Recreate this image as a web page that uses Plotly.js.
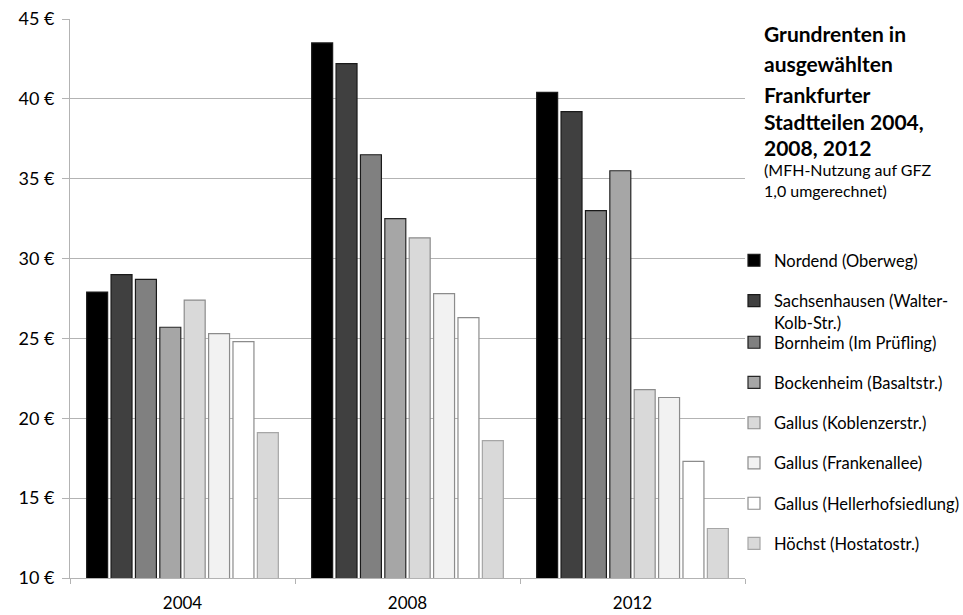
<!DOCTYPE html>
<html><head><meta charset="utf-8">
<script src="https://cdn.plot.ly/plotly-3.0.1.min.js"></script>
<style>body{margin:0;background:#fff}#chart{width:963px;height:615px}</style>
</head><body><div id="chart"></div>
<script>
const years = ['2004', '2008', '2012'];
const seriesNames = [
  'Nordend (Oberweg)',
  'Sachsenhausen (Walter-<br>Kolb-Str.)',
  'Bornheim (Im Prüfling)',
  'Bockenheim (Basaltstr.)',
  'Gallus (Koblenzerstr.)',
  'Gallus (Frankenallee)',
  'Gallus (Hellerhofsiedlung)',
  'Höchst (Hostatostr.)'
];
const nordend = [27.9, 43.5, 40.4];
const sachsenhausen = [29.0, 42.2, 39.2];
const bornheim = [28.7, 36.5, 33.0];
const bockenheim = [25.7, 32.5, 35.5];
const gallusKoblenz = [27.4, 31.3, 21.8];
const gallusFranken = [25.3, 27.8, 21.3];
const gallusHeller = [24.8, 26.3, 17.3];
const hoechst = [19.1, 18.6, 13.1];
const yTicks = [10, 15, 20, 25, 30, 35, 40, 45];

const seriesValues = [nordend, sachsenhausen, bornheim, bockenheim, gallusKoblenz, gallusFranken, gallusHeller, hoechst];
const fills = ['#000000', '#404040', '#808080', '#a6a6a6', '#d9d9d9', '#f2f2f2', '#ffffff', '#d9d9d9'];
const outlines = ['#1a1a1a', '#1a1a1a', '#1a1a1a', '#262626', '#8c8c8c', '#8c8c8c', '#8c8c8c', '#a6a6a6'];

const FONT = 'Lato, "Open Sans", sans-serif';

const traces = seriesValues.map((vals, i) => ({
  type: 'bar',
  name: seriesNames[i],
  x: years,
  y: vals,
  marker: { color: fills[i], line: { color: outlines[i], width: 1.2 } },
  legend: i < 2 ? 'legend' : 'legend2',
  legendgroup: 'g' + i
}));

const px2py = p => (578 - p) / 559;
const px2px = p => (p - 70) / 675;

const titleLines = ['Grundrenten in', 'ausgewählten', 'Frankfurter', 'Stadtteilen 2004,', '2008, 2012'];
const titleY = [34, 64, 94, 122, 148];
const annotations = titleLines.map((t, i) => ({
  text: '<b>' + t + '</b>', xref: 'paper', yref: 'paper',
  x: px2px(762), y: px2py(titleY[i]), xanchor: 'left', yanchor: 'middle',
  showarrow: false, align: 'left',
  font: { family: FONT, size: 21, color: '#000' }
}));
annotations.push({
  text: '(MFH-Nutzung auf GFZ<br>1,0 umgerechnet)', xref: 'paper', yref: 'paper',
  x: px2px(762), y: px2py(180), xanchor: 'left', yanchor: 'middle',
  showarrow: false, align: 'left',
  font: { family: FONT, size: 16, color: '#000' }
});

const layout = {
  width: 963, height: 615,
  margin: { l: 70, r: 218, t: 19, b: 37, autoexpand: false },
  paper_bgcolor: '#fff', plot_bgcolor: '#fff',
  font: { family: FONT, color: '#000' },
  barmode: 'group',
  bargap: 0.133,
  bargroupgap: 0.14,
  showlegend: true,
  xaxis: {
    type: 'category',
    showline: true, linecolor: '#b3b3b3', linewidth: 1,
    ticks: 'outside', tickson: 'boundaries', ticklen: 5, tickcolor: '#b3b3b3',
    ticklabelstandoff: 10,
    tickfont: { family: FONT, size: 17, color: '#000' },
    showgrid: false
  },
  yaxis: {
    range: [10, 45],
    tickvals: yTicks,
    ticktext: yTicks.map(v => v + ' €'),
    showline: true, linecolor: '#b3b3b3', linewidth: 1,
    ticks: 'outside', ticklen: 7, tickcolor: '#b3b3b3',
    ticklabelstandoff: 4,
    showgrid: true, gridcolor: '#b3b3b3', gridwidth: 1,
    zeroline: false,
    tickfont: { family: FONT, size: 18, color: '#000' }
  },
  legend: {
    x: px2px(734), y: px2py(243), xanchor: 'left', yanchor: 'top',
    traceorder: 'grouped', tracegroupgap: 16, valign: 'top',
    font: { family: FONT, size: 16.5, color: '#000' },
    bgcolor: 'rgba(0,0,0,0)'
  },
  legend2: {
    x: px2px(734), y: px2py(325), xanchor: 'left', yanchor: 'top',
    traceorder: 'grouped', tracegroupgap: 15.8, valign: 'top',
    font: { family: FONT, size: 16.5, color: '#000' },
    bgcolor: 'rgba(0,0,0,0)'
  },
  annotations: annotations
};

Plotly.newPlot('chart', traces, layout, { displayModeBar: false, staticPlot: true });
</script></body></html>
